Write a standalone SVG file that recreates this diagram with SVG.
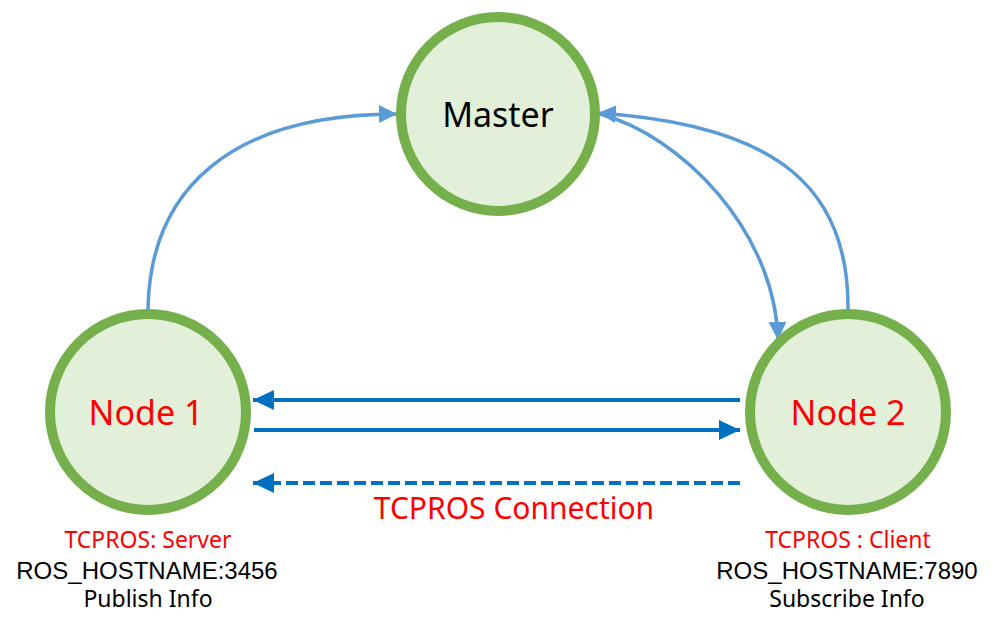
<svg xmlns="http://www.w3.org/2000/svg" width="994" height="627" viewBox="0 0 994 627">
<style>
.node{fill:#E2F0D9;stroke:#76B04D;stroke-width:10}
.lbl{font-family:"Noto Sans","Open Sans","Liberation Sans",sans-serif;text-anchor:middle}
.big{font-size:34px}
.red{fill:#FF0000}
.blk{fill:#000000}
.sm{font-size:23px}
.host{font-family:"Liberation Sans",Arial,sans-serif;font-size:24px}
.curve{fill:none;stroke:#5B9BD5;stroke-width:3.5}
.conn{fill:none;stroke:#0070C0;stroke-width:4}
</style>
<defs>
<marker id="ah-light" markerUnits="userSpaceOnUse" markerWidth="20" markerHeight="20" refX="18" refY="9" orient="auto">
<path d="M0,0 L18,9 L0,18 Z" fill="#5B9BD5"/>
</marker>
<marker id="ah-dark" markerUnits="userSpaceOnUse" markerWidth="22" markerHeight="22" refX="21" refY="10" orient="auto">
<path d="M0,0 L21,10 L0,20 Z" fill="#0070C0"/>
</marker>
</defs>
<rect width="994" height="627" fill="#FFFFFF"/>
<g id="connectors">
<path class="curve" d="M148,309 C150,190 230,114 397,114" marker-end="url(#ah-light)"/>
<path class="curve" d="M600,114 C680,135 775,230 778,340" marker-end="url(#ah-light)"/>
<path class="curve" d="M848,312 C850,190 780,125 598,113" marker-end="url(#ah-light)"/>
<path class="conn" d="M740,400 L253,400" marker-end="url(#ah-dark)"/>
<path class="conn" d="M254,430 L740,430" marker-end="url(#ah-dark)"/>
<path class="conn" d="M740,483 L253,483" stroke-dasharray="12,5" marker-end="url(#ah-dark)"/>
<text class="lbl red" x="514" y="519" font-size="30">TCPROS Connection</text>
</g>
<g id="master">
<circle class="node" cx="498" cy="114" r="97"/>
<text class="lbl big blk" x="498" y="127">Master</text>
</g>
<g id="node1">
<circle class="node" cx="148" cy="412" r="98"/>
<text class="lbl big red" x="146" y="425">Node 1</text>
<text class="lbl sm red" x="148" y="548">TCPROS: Server</text>
<text class="lbl host blk" x="147" y="579">ROS_HOSTNAME:3456</text>
<text class="lbl sm blk" x="148" y="607">Publish Info</text>
</g>
<g id="node2">
<circle class="node" cx="848" cy="412" r="98"/>
<text class="lbl big red" x="848" y="425">Node 2</text>
<text class="lbl sm red" x="848" y="548">TCPROS : Client</text>
<text class="lbl host blk" x="847" y="579">ROS_HOSTNAME:7890</text>
<text class="lbl sm blk" x="847" y="607">Subscribe Info</text>
</g>
</svg>
